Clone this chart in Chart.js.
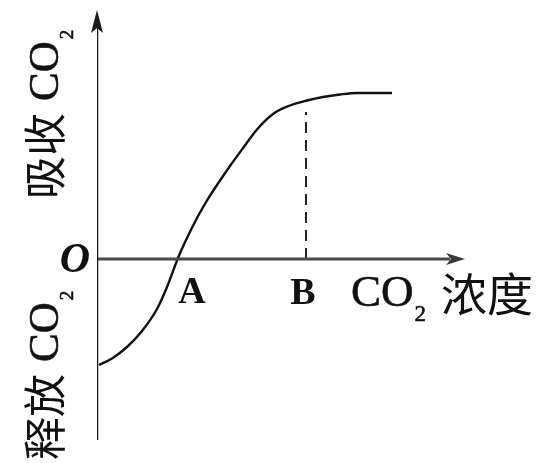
<!DOCTYPE html>
<html>
<head>
<meta charset="utf-8">
<script src="https://cdn.jsdelivr.net/npm/chart.js@4.4.1/dist/chart.umd.min.js"></script>
<style>
html,body{margin:0;padding:0;background:#fff;}
#wrap{width:547px;height:463px;}
</style>
</head>
<body>
<div id="wrap"><canvas id="c" width="547" height="463"></canvas></div>
<script>
// ---- data (arbitrary units) ----
const concentration = [0.2, 1.5, 3.0, 4.5, 6.0, 7.0, 8.1, 9.0, 10.0, 11.0, 12.0, 13.3, 14.5, 16.0, 17.6, 19.3, 21.0, 22.6, 24.3, 26.0, 29.5];
const netCO2 =        [-10.6, -9.95, -8.8, -7.2, -5.0, -2.8, 0.1, 2.1, 4.1, 5.85, 7.4, 9.3, 10.95, 12.95, 14.5, 15.35, 15.85, 16.2, 16.45, 16.6, 16.6];
const pointA = 8.1;
const pointB = 20.9;
const pointBTop = 14.7;
const xRange = [0, 36.8];
const yRange = [-18.1, 24.9];
const yAxisLabelTop = ['吸收', 'CO', '2'];
const yAxisLabelBottom = ['释放', 'CO', '2'];
const xAxisLabel = ['CO', '2', '浓度'];
const pointLabels = ['A', 'B'];
const originLabel = 'O';

const curve = concentration.map((x, i) => ({x: x, y: netCO2[i]}));

const LATIN = '"Liberation Serif", "DejaVu Serif", serif';
const CJK = '"Noto Sans CJK SC", "Noto Sans", sans-serif';

const decor = {
  id: 'decor',
  afterDatasetsDraw(chart) {
    const ctx = chart.ctx;
    const xs = chart.scales.x, ys = chart.scales.y;
    const ox = xs.getPixelForValue(0), oy = ys.getPixelForValue(0);
    const yTop = ys.getPixelForValue(yRange[1]);
    const xEnd = xs.getPixelForValue(xRange[1]);
    ctx.save();
    // y-axis arrowhead
    ctx.fillStyle = '#1a1a1a';
    ctx.beginPath();
    ctx.moveTo(ox, yTop);
    ctx.lineTo(ox - 6, yTop + 23);
    ctx.lineTo(ox, yTop + 18);
    ctx.lineTo(ox + 6, yTop + 23);
    ctx.closePath();
    ctx.fill();
    // x-axis arrowhead
    ctx.fillStyle = '#3a3a3a';
    ctx.beginPath();
    ctx.moveTo(xEnd, oy);
    ctx.lineTo(xEnd - 19, oy - 6);
    ctx.lineTo(xEnd - 14, oy);
    ctx.lineTo(xEnd - 19, oy + 6);
    ctx.closePath();
    ctx.fill();

    ctx.fillStyle = '#111';
    ctx.strokeStyle = '#111';
    ctx.lineWidth = 0.6;
    ctx.textBaseline = 'alphabetic';
    function txt(s, x, y) { ctx.fillText(s, x, y); ctx.strokeText(s, x, y); }
    // origin label
    ctx.font = 'italic bold 42px ' + LATIN;
    ctx.textAlign = 'center';
    ctx.fillText(originLabel, ox - 22, oy + 13);
    // A / B
    ctx.font = 'bold 38px ' + LATIN;
    ctx.fillText(pointLabels[0], xs.getPixelForValue(pointA) + 14, oy + 44);
    ctx.fillText(pointLabels[1], xs.getPixelForValue(pointB) - 3, oy + 45);
    // x axis title
    ctx.textAlign = 'left';
    ctx.font = '45px ' + LATIN;
    const coX = 351;
    txt(xAxisLabel[0], coX, 306);
    const coW = ctx.measureText(xAxisLabel[0]).width;
    ctx.font = '23px ' + LATIN;
    txt(xAxisLabel[1], coX + coW + 1, 321);
    ctx.font = '46px ' + CJK;
    ctx.fillText(xAxisLabel[2], 441, 311);

    // vertical labels
    function vtext(s, font, bx, startY, stroke) {
      ctx.save();
      ctx.translate(bx, startY);
      ctx.rotate(-Math.PI / 2);
      ctx.font = font;
      ctx.textAlign = 'left';
      ctx.fillText(s, 0, 0);
      if (stroke) ctx.strokeText(s, 0, 0);
      const w = ctx.measureText(s).width;
      ctx.restore();
      return w;
    }
    function vlabel(parts, bottomY) {
      vtext(parts[0], '43px ' + CJK, 61, bottomY, false);
      const coStart = bottomY - 98;
      const w = vtext(parts[1], '43px ' + LATIN, 58, coStart, true);
      vtext(parts[2], '19px ' + LATIN, 73, coStart - w - 2, true);
    }
    vlabel(yAxisLabelTop, 199);
    vlabel(yAxisLabelBottom, 460);
    ctx.restore();
  }
};

new Chart(document.getElementById('c'), {
  type: 'line',
  data: {
    datasets: [
      { data: [{x: 0, y: yRange[0]}, {x: 0, y: yRange[1] - 1.5}], borderColor: '#1a1a1a', borderWidth: 2.5, pointRadius: 0, tension: 0 },
      { data: [{x: 0, y: 0}, {x: xRange[1] - 1.5, y: 0}], borderColor: '#4a4a4a', borderWidth: 3.2, pointRadius: 0, tension: 0 },
      { data: [{x: pointB, y: 0}, {x: pointB, y: pointBTop}], borderColor: '#222', borderWidth: 2, borderDash: [11, 7], pointRadius: 0, tension: 0 },
      { data: curve, borderColor: '#111', borderWidth: 2.4, pointRadius: 0, cubicInterpolationMode: 'monotone' }
    ]
  },
  options: {
    responsive: false,
    animation: false,
    devicePixelRatio: 1,
    layout: { padding: { left: 97, right: 82, top: 10, bottom: 23 } },
    plugins: { legend: { display: false }, tooltip: { enabled: false } },
    scales: {
      x: { type: 'linear', min: xRange[0], max: xRange[1], display: false },
      y: { type: 'linear', min: yRange[0], max: yRange[1], display: false }
    }
  },
  plugins: [decor]
});
</script>
</body>
</html>
